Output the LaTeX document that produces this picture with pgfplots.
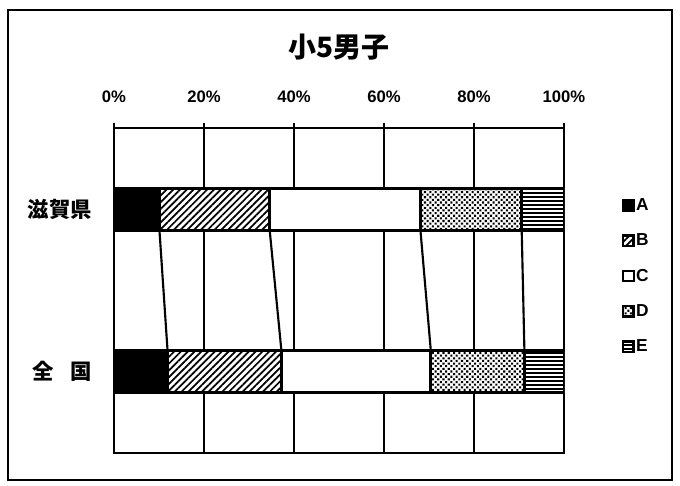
\documentclass[border=0pt]{standalone}
\usepackage{fontspec}
\setmainfont{Liberation Sans}
\newfontfamily\cjk{Noto Sans CJK JP}
\usepackage{pgfplots}
\usepackage{pgfplotstable}
\pgfplotsset{compat=1.18}
\usetikzlibrary{patterns,patterns.meta}

% shares per category (0 = 滋賀県, 1 = 全国), percent
\pgfplotstableread{
cat A B C D E
0 10.1 24.5 33.5 22.5 9.4
1 11.9 25.3 33.2 20.8 8.8
}\shares

\begin{document}
\begin{tikzpicture}
\begin{axis}[
    name=main,
    scale only axis,
    width=337.5pt, height=243.75pt,
    xbar stacked, bar width=31.5pt,
    xmin=0, xmax=100, ymin=-0.5, ymax=1.5,
    y dir=reverse,
    xtick={0,20,...,100},
    xticklabels={0\%,20\%,40\%,60\%,80\%,100\%},
    xtick pos=upper, xticklabel pos=upper,
    tick align=outside,
    major tick length=4pt,
    xtick style={line width=1.8pt, black},
    xticklabel style={font=\bfseries\fontsize{12.5}{12.5}\selectfont, anchor=center, yshift=19.5pt},
    ytick={0,1},
    yticklabels={滋賀県,全\hspace{0.8em}国},
    ytick style={draw=none},
    yticklabel style={font=\cjk\bfseries\fontsize{16}{16}\selectfont, anchor=east, xshift=-9pt},
    xmajorgrids,
    grid style={black, line width=1.8pt},
    axis line style={line width=2pt},
    legend cell align=left,
    legend style={at={(rel axis cs:1,0.5)}, anchor=west, xshift=43.5pt, yshift=10.9pt,
        draw=none, fill=none, inner sep=0pt, row sep=14pt,
        font=\bfseries\fontsize{13}{13}\selectfont,
        nodes={inner sep=1pt}},
    legend image code/.code={\draw[#1, line width=1.3pt] (0pt,-4pt) rectangle (8pt,4pt);},
    every axis plot/.append style={draw=black, line width=2pt},
]
\addplot[fill=black] table[x=A, y=cat]{\shares};
\addplot[preaction={fill=white}, pattern={Lines[angle=45, distance=3.6pt, line width=1.3pt]}, pattern color=black] table[x=B, y=cat]{\shares};
\addplot[fill=white] table[x=C, y=cat]{\shares};
\addplot[preaction={fill=white}, pattern={Dots[angle=45, distance=2.8pt, radius=1.1pt]}, pattern color=black] table[x=D, y=cat]{\shares};
\addplot[preaction={fill=white}, pattern={Lines[angle=0, distance=3pt, line width=1.1pt]}, pattern color=black] table[x=E, y=cat]{\shares};
\legend{A,B,C,D,E}
\end{axis}

% series lines between the two bars
\begin{axis}[
    scale only axis,
    width=337.5pt, height=243.75pt,
    xmin=0, xmax=100, ymin=-0.5, ymax=1.5,
    y dir=reverse, hide axis,
]
\addplot[black, line width=1.6pt] coordinates {(10.1,0.13) (11.9,0.87)};
\addplot[black, line width=1.6pt] coordinates {(34.6,0.13) (37.2,0.87)};
\addplot[black, line width=1.6pt] coordinates {(68.1,0.13) (70.4,0.87)};
\addplot[black, line width=1.6pt] coordinates {(90.6,0.13) (91.2,0.87)};
\end{axis}

\node[font=\cjk\bfseries\fontsize{21}{21}\selectfont] at ([yshift=60.75pt]main.north) {小5男子};
\draw[line width=2pt] ([xshift=-79.5pt,yshift=-20.25pt]main.south west) rectangle ([xshift=81pt,yshift=88.5pt]main.north east);
\path ([xshift=-85.5pt,yshift=-24pt]main.south west) rectangle ([xshift=87pt,yshift=96pt]main.north east);
\end{tikzpicture}
\end{document}
